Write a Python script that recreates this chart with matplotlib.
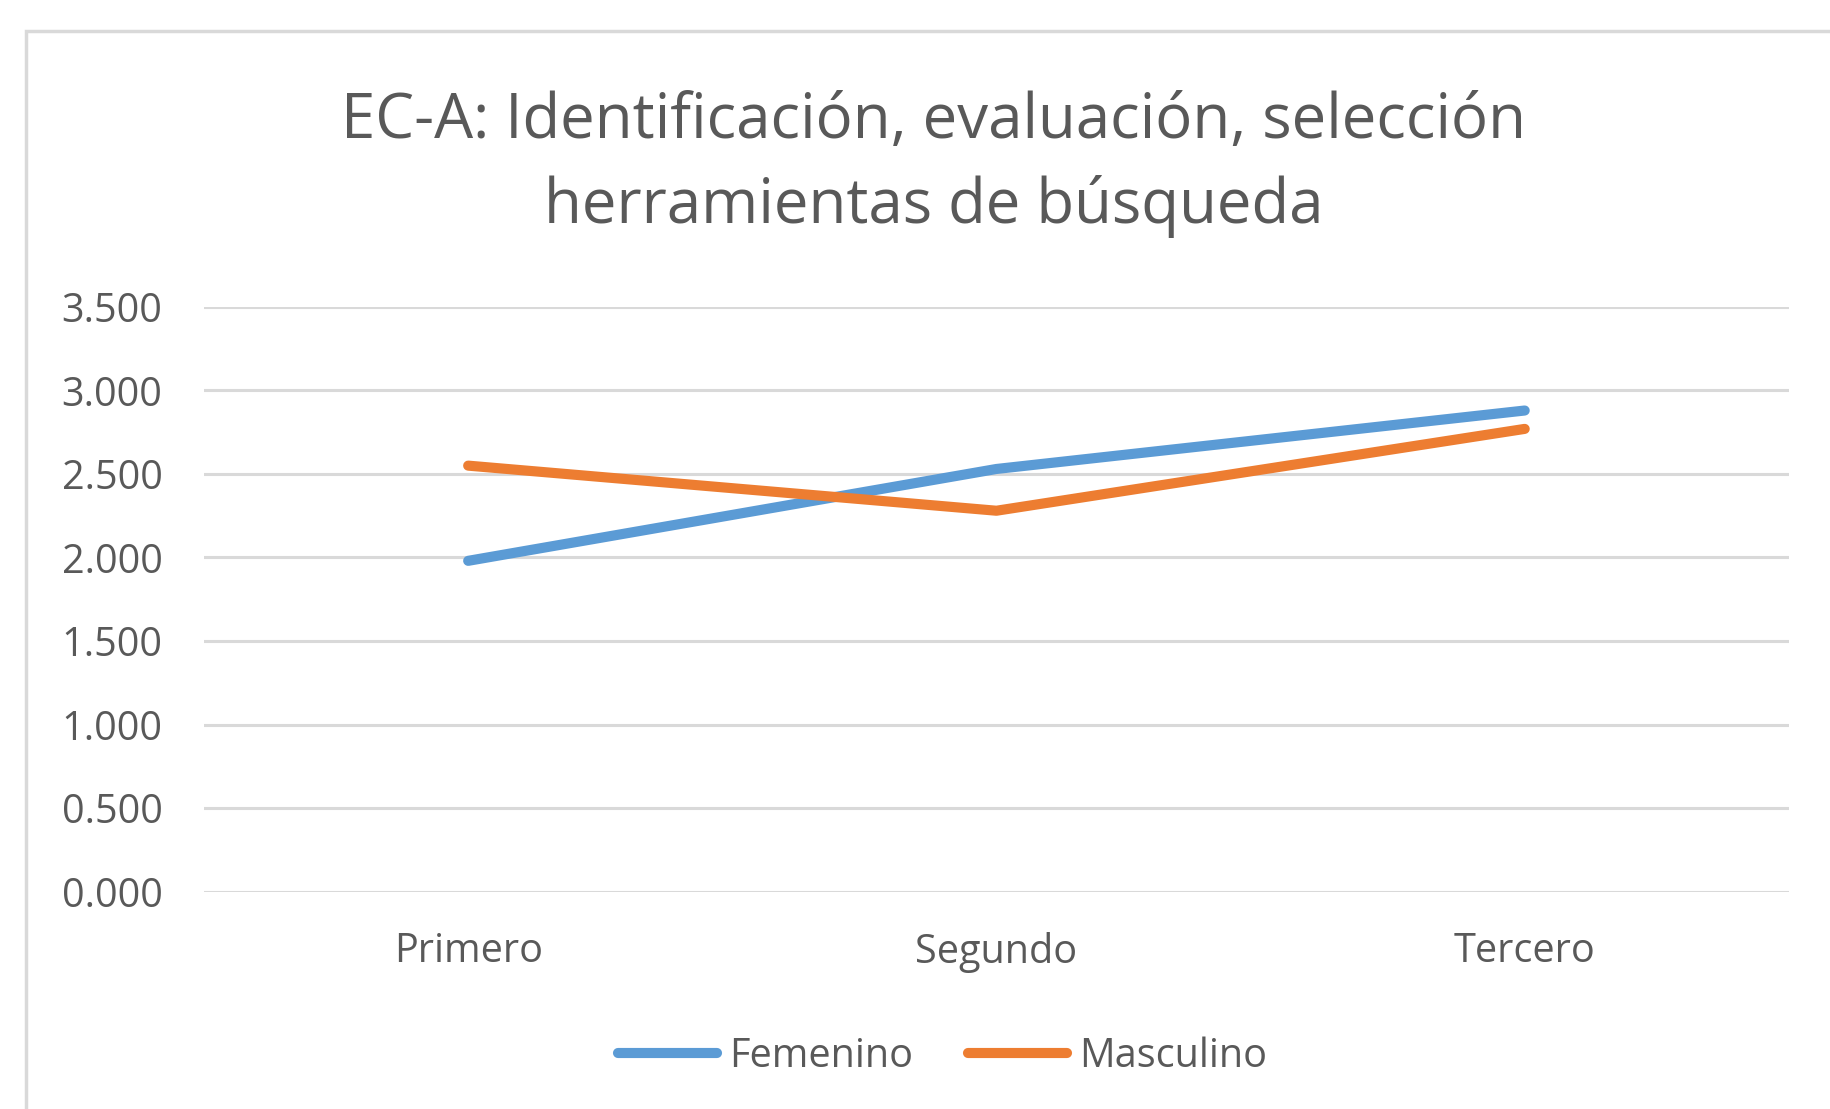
import numpy as np
import matplotlib
matplotlib.use('Agg')
import matplotlib.pyplot as plt
from matplotlib.patches import Rectangle

# data
cursos = ['Primero', 'Segundo', 'Tercero']
femenino = [1.98, 2.53, 2.88]
masculino = [2.55, 2.28, 2.77]
yticks = [0.0, 0.5, 1.0, 1.5, 2.0, 2.5, 3.0, 3.5]

plt.rcParams['font.family'] = ['Open Sans', 'DejaVu Sans']
gris = '#595959'

fig = plt.figure(figsize=(18.3, 11.09), dpi=100)
fig.patch.set_facecolor('white')

# light frame around the chart (cut off at right and bottom, like the source)
fig.patches.append(Rectangle((0.0142, -0.05), 1.05, 1.022, transform=fig.transFigure,
                             fill=False, edgecolor='#d9d9d9', linewidth=2.5, zorder=0))

ax = fig.add_axes([0.1115, 0.1961, 0.866, 0.5271])
x = np.arange(len(cursos))

ax.plot(x, femenino, color='#5B9BD5', lw=7.3, solid_capstyle='round', label='Femenino', zorder=3)
ax.plot(x, masculino, color='#ED7D31', lw=7.3, solid_capstyle='round', label='Masculino', zorder=3)

ax.set_xlim(-0.5, len(cursos) - 0.5)
ax.set_ylim(0, 3.5)
ax.set_yticks(yticks)
ax.set_yticklabels([f'{v:.3f}' for v in yticks])
ax.set_xticks(x)
ax.set_xticklabels(cursos)
ax.tick_params(axis='y', length=0, pad=30, labelsize=28.5, labelcolor=gris)
ax.tick_params(axis='x', length=0, pad=29, labelsize=28.5, labelcolor=gris)
ax.grid(axis='y', color='#d9d9d9', lw=2.2)
ax.set_axisbelow(True)
for s in ax.spines.values():
    s.set_visible(False)

fig.text(0.51, 0.8515, 'EC-A: Identificación, evaluación, selección\nherramientas de búsqueda',
         ha='center', va='center', fontsize=44.5, color=gris, linespacing=1.46)

fig.legend(loc='center', bbox_to_anchor=(0.515, 0.0475), ncol=2, frameon=False,
           fontsize=28.5, handlelength=2.5, handletextpad=0.3, columnspacing=1.4,
           labelcolor=gris)

fig.savefig('out.png', dpi=100, facecolor='white')
